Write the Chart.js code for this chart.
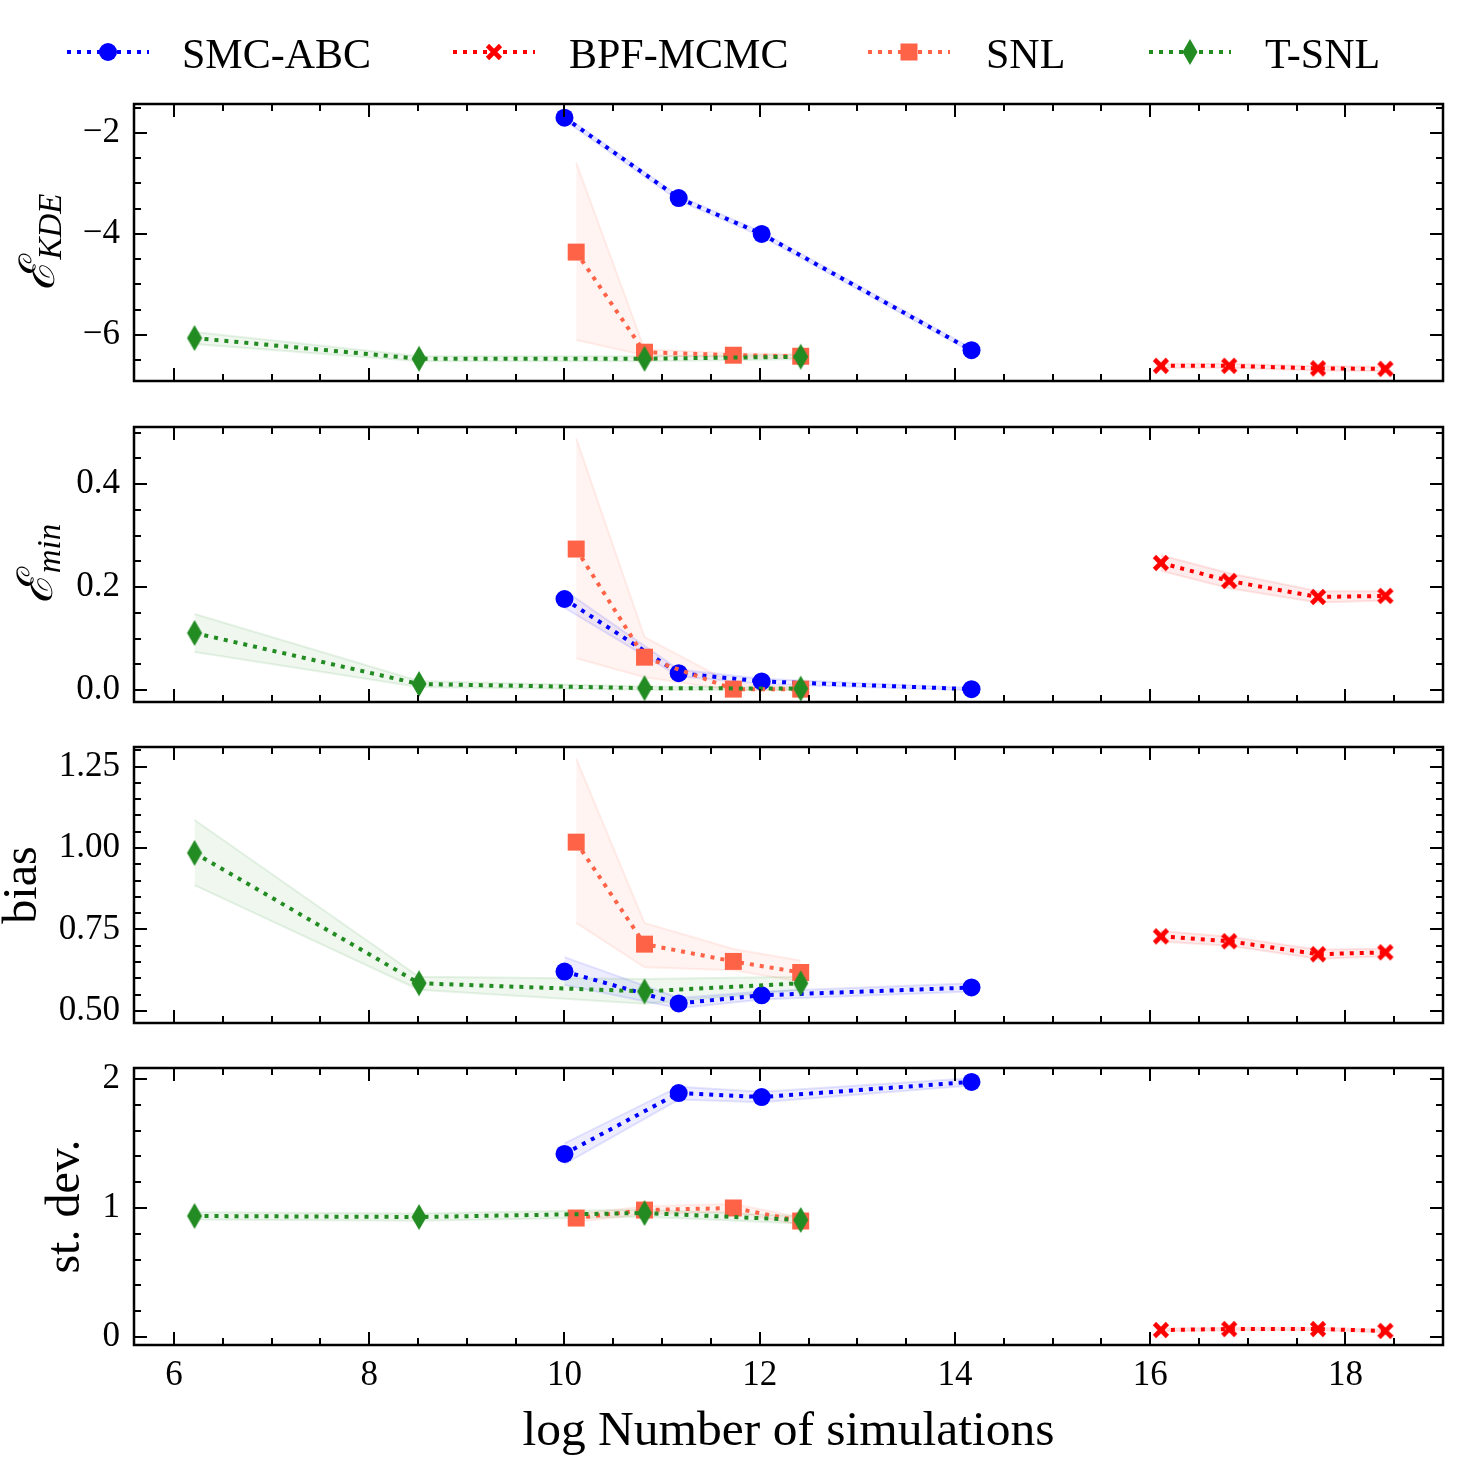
<!DOCTYPE html>
<html><head><meta charset="utf-8">
<script src="https://cdn.jsdelivr.net/npm/chart.js@4/dist/chart.umd.min.js"></script>
<style>
body{margin:0;background:#fff}
#wrap{position:relative;width:1459px;height:1473px;background:#fff;overflow:hidden}
#wrap canvas{position:absolute;left:0}
</style></head>
<body><div id="wrap">
<canvas id="legend" width="1459" height="100" style="top:0"></canvas>
<canvas id="c1" width="1459" height="317" style="top:84px"></canvas>
<canvas id="c2" width="1459" height="315" style="top:407px"></canvas>
<canvas id="c3" width="1459" height="316" style="top:727px"></canvas>
<canvas id="c4" width="1459" height="425" style="top:1048px"></canvas>
</div>
<script>
// ---------- data ----------
const seriesNames = ['SMC-ABC', 'BPF-MCMC', 'SNL', 'T-SNL'];
const xTickValues = [6, 8, 10, 12, 14, 16, 18];

// log number of simulations per method
const xSMC  = [10.00, 11.17, 12.02, 14.17];
const xBPF  = [16.11, 16.81, 17.72, 18.41];
const xSNL  = [10.12, 10.82, 11.73, 12.42];
const xTSNL = [6.21, 8.51, 10.82, 12.42];

// E_KDE
const kdeSMC = [-1.70, -3.29, -4.00, -6.30];
const kdeSMCLo = [-1.75, -3.34, -4.05, -6.34];
const kdeSMCHi = [-1.66, -3.25, -3.96, -6.26];
const kdeBPF = [-6.61, -6.61, -6.66, -6.67];
const kdeBPFLo = [-6.65, -6.65, -6.70, -6.71];
const kdeBPFHi = [-6.57, -6.57, -6.62, -6.63];
const kdeSNL = [-4.36, -6.34, -6.40, -6.42];
const kdeSNLLo = [-6.10, -6.40, -6.44, -6.46];
const kdeSNLHi = [-2.59, -6.28, -6.36, -6.38];
const kdeTSNL = [-6.06, -6.47, -6.47, -6.43];
const kdeTSNLLo = [-6.18, -6.52, -6.52, -6.48];
const kdeTSNLHi = [-5.94, -6.42, -6.42, -6.39];

// E_min
const minSMC = [0.177, 0.033, 0.017, 0.002];
const minSMCLo = [0.160, 0.027, 0.012, 0.000];
const minSMCHi = [0.194, 0.040, 0.022, 0.004];
const minBPF = [0.247, 0.212, 0.181, 0.183];
const minBPFLo = [0.232, 0.198, 0.170, 0.174];
const minBPFHi = [0.262, 0.227, 0.192, 0.192];
const minSNL = [0.274, 0.064, 0.002, 0.002];
const minSNLLo = [0.062, 0.025, 0.000, 0.000];
const minSNLHi = [0.489, 0.103, 0.012, 0.006];
const minTSNL = [0.111, 0.012, 0.004, 0.003];
const minTSNLLo = [0.074, 0.006, 0.001, 0.001];
const minTSNLHi = [0.148, 0.018, 0.007, 0.005];

// bias
const biasSMC = [0.621, 0.523, 0.548, 0.572];
const biasSMCLo = [0.580, 0.508, 0.535, 0.560];
const biasSMCHi = [0.665, 0.540, 0.560, 0.585];
const biasBPF = [0.729, 0.714, 0.674, 0.680];
const biasBPFLo = [0.713, 0.700, 0.660, 0.668];
const biasBPFHi = [0.745, 0.728, 0.688, 0.692];
const biasSNL = [1.018, 0.705, 0.652, 0.618];
const biasSNLLo = [0.770, 0.634, 0.625, 0.590];
const biasSNLHi = [1.274, 0.770, 0.690, 0.655];
const biasTSNL = [0.985, 0.585, 0.560, 0.585];
const biasTSNLLo = [0.886, 0.565, 0.522, 0.565];
const biasTSNLHi = [1.086, 0.605, 0.598, 0.605];

// st. dev.
const sdSMC = [1.419, 1.891, 1.860, 1.977];
const sdSMCLo = [1.340, 1.840, 1.820, 1.950];
const sdSMCHi = [1.500, 1.940, 1.900, 2.005];
const sdBPF = [0.054, 0.062, 0.062, 0.047];
const sdBPFLo = [0.044, 0.052, 0.052, 0.037];
const sdBPFHi = [0.064, 0.072, 0.072, 0.057];
const sdSNL = [0.922, 0.984, 1.000, 0.899];
const sdSNLLo = [0.892, 0.954, 0.970, 0.869];
const sdSNLHi = [0.952, 1.014, 1.030, 0.929];
const sdTSNL = [0.938, 0.930, 0.961, 0.907];
const sdTSNLLo = [0.910, 0.902, 0.933, 0.879];
const sdTSNLHi = [0.966, 0.958, 0.989, 0.935];

// y tick labels
const kdeTicks = [-6, -4, -2];
const minTicks = [0.0, 0.2, 0.4];
const biasTicks = [0.50, 0.75, 1.00, 1.25];
const sdTicks = [0, 1, 2];

// ---------- styling ----------
const FONT = '"Liberation Serif", "DejaVu Serif", serif';
const COLORS = ['#0000ff', '#ff0000', '#ff6347', '#228b22'];
const RGB = ['0,0,255', '255,0,0', '255,99,71', '34,139,34'];
const xSets = [xSMC, xBPF, xSNL, xTSNL];

function makeDiamond(color) {
  const c = document.createElement('canvas'); c.width = 18; c.height = 28;
  const g = c.getContext('2d');
  g.fillStyle = color; g.beginPath();
  g.moveTo(9, 1); g.lineTo(16.5, 14); g.lineTo(9, 27); g.lineTo(1.5, 14); g.closePath(); g.fill();
  return c;
}
function makeX(color) {
  const c = document.createElement('canvas'); c.width = 18; c.height = 18;
  const g = c.getContext('2d');
  g.strokeStyle = color; g.lineWidth = 4.6; g.lineCap = 'butt';
  g.beginPath(); g.moveTo(2.5, 2.5); g.lineTo(15.5, 15.5); g.moveTo(15.5, 2.5); g.lineTo(2.5, 15.5); g.stroke();
  return c;
}
const diamondImg = makeDiamond(COLORS[3]);
const xImg = makeX(COLORS[1]);
const pointStyles = ['circle', xImg, 'rect', diamondImg];
const pointRadii = [9, 9, 12, 12];
const orders = [4, 3, 2, 1];

function zip(xs, ys) { return xs.map((x, i) => ({x: x, y: ys[i]})); }

function buildDatasets(groups) {
  const ds = [];
  groups.forEach((g, i) => {
    const xs = xSets[i];
    ds.push({data: zip(xs, g[2]), fill: '+1', backgroundColor: 'rgba(' + RGB[i] + ',0.07)',
      borderColor: 'rgba(' + RGB[i] + ',0.10)', borderWidth: 2, pointRadius: 0, order: 20 + i, tension: 0});
    ds.push({data: zip(xs, g[1]), fill: false, borderColor: 'rgba(' + RGB[i] + ',0.10)',
      borderWidth: 2, pointRadius: 0, order: 20 + i, tension: 0});
  });
  groups.forEach((g, i) => {
    const xs = xSets[i];
    ds.push({label: seriesNames[i], data: zip(xs, g[0]), fill: false, borderColor: COLORS[i],
      borderWidth: 4, borderDash: [4, 6], borderCapStyle: 'butt', tension: 0,
      pointStyle: pointStyles[i], pointRadius: pointRadii[i], pointBackgroundColor: COLORS[i],
      pointBorderWidth: 0, pointBorderColor: COLORS[i], order: orders[i]});
  });
  return ds;
}

const panels = [
  {id: 'c1', ymin: -6.91, ymax: -1.43, ticks: kdeTicks, majorStep: 2, minorStep: 0.5,
   fmt: v => (v < 0 ? '\u2212' : '') + Math.abs(v),
   groups: [[kdeSMC, kdeSMCLo, kdeSMCHi], [kdeBPF, kdeBPFLo, kdeBPFHi], [kdeSNL, kdeSNLLo, kdeSNLHi], [kdeTSNL, kdeTSNLLo, kdeTSNLHi]],
   title: {main: '\u2130', sub: 'KDE', bx: 54, sx: 61}, last: false},
  {id: 'c2', ymin: -0.023, ymax: 0.511, ticks: minTicks, majorStep: 0.2, minorStep: 0.05,
   fmt: v => v.toFixed(1),
   groups: [[minSMC, minSMCLo, minSMCHi], [minBPF, minBPFLo, minBPFHi], [minSNL, minSNLLo, minSNLHi], [minTSNL, minTSNLLo, minTSNLHi]],
   title: {main: '\u2130', sub: 'min', bx: 52, sx: 60}, last: false},
  {id: 'c3', ymin: 0.463, ymax: 1.31, ticks: biasTicks, majorStep: 0.25, minorStep: 0.05,
   fmt: v => v.toFixed(2),
   groups: [[biasSMC, biasSMCLo, biasSMCHi], [biasBPF, biasBPFLo, biasBPFHi], [biasSNL, biasSNLLo, biasSNLHi], [biasTSNL, biasTSNLLo, biasTSNLHi]],
   title: {text: 'bias', bx: 36}, last: false},
  {id: 'c4', ymin: -0.062, ymax: 2.085, ticks: sdTicks, majorStep: 1, minorStep: 0.2,
   fmt: v => String(v),
   groups: [[sdSMC, sdSMCLo, sdSMCHi], [sdBPF, sdBPFLo, sdBPFHi], [sdSNL, sdSNLLo, sdSNLHi], [sdTSNL, sdTSNLLo, sdTSNLHi]],
   title: {text: 'st. dev.', bx: 79}, last: true}
];

function tickVals(min, max, step, majorStep) {
  const out = [];
  const k0 = Math.ceil(min / step - 1e-9), k1 = Math.floor(max / step + 1e-9);
  for (let k = k0; k <= k1; k++) {
    const v = k * step;
    const r = v / majorStep;
    out.push({v: v, major: Math.abs(r - Math.round(r)) < 1e-6});
  }
  return out;
}

const framePlugin = {
  id: 'frame',
  afterDraw(chart) {
    const p = chart.options.plugins.frame;
    const ctx = chart.ctx, a = chart.chartArea, xs = chart.scales.x, ys = chart.scales.y;
    ctx.save();
    ctx.strokeStyle = '#000';
    ctx.lineWidth = 2;
    ctx.beginPath();
    tickVals(xs.min, xs.max, 0.5, 2).forEach(t => {
      const px = Math.round(xs.getPixelForValue(t.v));
      const L = t.major ? 13 : 7;
      ctx.moveTo(px, a.bottom); ctx.lineTo(px, a.bottom - L);
      ctx.moveTo(px, a.top); ctx.lineTo(px, a.top + L);
    });
    tickVals(ys.min, ys.max, p.minorStep, p.majorStep).forEach(t => {
      const py = Math.round(ys.getPixelForValue(t.v));
      const L = t.major ? 13 : 7;
      ctx.moveTo(a.left, py); ctx.lineTo(a.left + L, py);
      ctx.moveTo(a.right, py); ctx.lineTo(a.right - L, py);
    });
    ctx.stroke();
    ctx.lineWidth = 2.5;
    ctx.strokeRect(a.left, a.top, a.right - a.left, a.bottom - a.top);
    // y title
    const t = p.title;
    const cy = (a.top + a.bottom) / 2;
    ctx.fillStyle = '#000';
    ctx.textBaseline = 'alphabetic';
    ctx.textAlign = 'left';
    if (t.text) {
      ctx.translate(t.bx, cy); ctx.rotate(-Math.PI / 2);
      ctx.font = '48px ' + FONT;
      const w = ctx.measureText(t.text).width;
      ctx.fillText(t.text, -w / 2, 0);
    } else {
      const mainFont = 'italic 49px ' + FONT, subFont = 'italic 33px ' + FONT;
      ctx.font = mainFont; const w1 = ctx.measureText(t.main).width;
      ctx.font = subFont; const w2 = ctx.measureText(t.sub).width;
      ctx.translate(0, cy); ctx.rotate(-Math.PI / 2);
      const s = -(w1 + w2) / 2;
      ctx.font = mainFont; ctx.fillText(t.main, s, t.bx);
      ctx.font = subFont; ctx.fillText(t.sub, s + w1 + 1, t.sx);
    }
    ctx.restore();
  }
};

panels.forEach(p => {
  const el = document.getElementById(p.id);
  new Chart(el, {
    type: 'line',
    data: {datasets: buildDatasets(p.groups)},
    plugins: [framePlugin],
    options: {
      responsive: false, maintainAspectRatio: false, animation: false, devicePixelRatio: 1, events: [],
      layout: {padding: {left: 0, right: 16, top: 20, bottom: p.last ? 0 : 20}},
      plugins: {legend: {display: false}, tooltip: {enabled: false},
        frame: {majorStep: p.majorStep, minorStep: p.minorStep, title: p.title}},
      scales: {
        x: {type: 'linear', min: 5.59, max: 19.0, display: p.last,
          afterBuildTicks: s => { s.ticks = xTickValues.map(v => ({value: v})); },
          afterFit: s => { s.height = p.last ? 128 : 0; s.paddingLeft = 0; s.paddingRight = 0; },
          grid: {display: false, drawTicks: false},
          border: {display: false},
          ticks: {color: '#000', font: {family: FONT, size: 35}, padding: 10, maxRotation: 0, autoSkip: false,
            callback: v => String(v)},
          title: {display: true, text: 'log Number of simulations', color: '#000',
            font: {family: FONT, size: 49.5}, padding: {top: 0, bottom: 11}}
        },
        y: {type: 'linear', min: p.ymin, max: p.ymax,
          afterBuildTicks: s => { s.ticks = p.ticks.map(v => ({value: v})); },
          afterFit: s => { s.width = 134; s.paddingTop = 0; s.paddingBottom = 0; },
          grid: {display: false, drawTicks: false},
          border: {display: false},
          ticks: {color: '#000', font: {family: FONT, size: 35}, padding: 14, autoSkip: false,
            callback: v => p.fmt(v)}
        }
      }
    }
  });
});

// ---------- legend ----------
(function () {
  const c = document.getElementById('legend');
  const g = c.getContext('2d');
  const lineX = [67, 453, 868, 1149];
  const textX = [182, 569, 986, 1265];
  const cy = 52;
  seriesNames.forEach((name, i) => {
    g.save();
    g.strokeStyle = COLORS[i]; g.lineWidth = 4; g.setLineDash([4, 6]); g.lineCap = 'butt';
    g.beginPath(); g.moveTo(lineX[i], cy); g.lineTo(lineX[i] + 82, cy); g.stroke();
    g.setLineDash([]);
    const mx = lineX[i] + 41;
    g.fillStyle = COLORS[i];
    if (i === 0) { g.beginPath(); g.arc(mx, cy, 9, 0, Math.PI * 2); g.fill(); }
    else if (i === 1) { g.drawImage(xImg, mx - 9, cy - 9); }
    else if (i === 2) { g.fillRect(mx - 8.5, cy - 8.5, 17, 17); }
    else { g.drawImage(diamondImg, mx - 9, cy - 14); }
    g.fillStyle = '#000'; g.font = '42px ' + FONT; g.textBaseline = 'alphabetic';
    g.fillText(name, textX[i], 68);
    g.restore();
  });
})();
</script>
</body></html>
